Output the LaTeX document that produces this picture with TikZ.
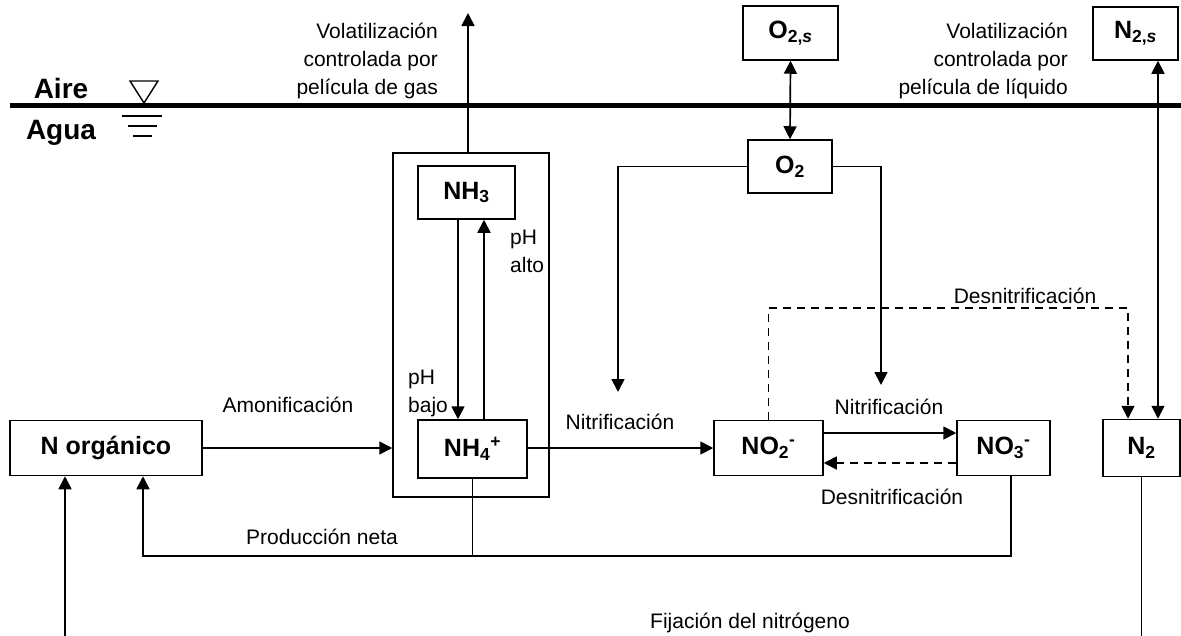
\documentclass[tikz,border=0pt]{standalone}
\usepackage{fontspec}
\setmainfont{Liberation Sans}
\usetikzlibrary{arrows.meta,calc}
\tikzset{
  box/.style={draw, line width=1.5pt, font=\fontsize{25}{30}\selectfont\bfseries, inner sep=0pt},
  lbl/.style={font=\fontsize{21}{28}\selectfont, inner sep=0pt},
  big/.style={font=\fontsize{28}{32}\selectfont\bfseries, inner sep=0pt},
  conn/.style={line width=1.7pt},
  arr/.style={conn, -{Triangle[length=13pt,width=13pt]}},
  darr/.style={conn, {Triangle[length=13pt,width=13pt]}-{Triangle[length=13pt,width=13pt]}},
  dsh/.style={dash pattern=on 8pt off 6pt},
}
\begin{document}
\begin{tikzpicture}[x=1pt,y=-1pt]
\useasboundingbox (0,0) rectangle (1181,635);
% water surface
\draw[line width=5pt] (10,105) -- (1181,105);
\node[big] (aire) at (61,88) {Aire};
\node[big] (agua) at (61,133) {Agua};
\draw[line width=1.4pt] (130,81) -- (158,81) -- (144,103) -- cycle;
\draw[line width=1.4pt] (122,116) -- (162,116);
\draw[line width=1.4pt] (128,126) -- (157,126);
\draw[line width=1.4pt] (133,136) -- (152,136);

% boxes
\node[box, minimum width=192pt, minimum height=55pt] (norg) at (106,448) {N orgánico};
\node[draw, line width=1.5pt, minimum width=156pt, minimum height=344pt, inner sep=0pt] (outer) at (471,325) {};
\node[box, minimum width=97pt, minimum height=53pt] (nh3) at (466.5,192.5) {NH\textsubscript{3}};
\node[box, minimum width=109pt, minimum height=58pt] (nh4) at (472.5,449) {NH\textsubscript{4}\textsuperscript{+}};
\node[box, minimum width=95pt, minimum height=54pt] (o2s) at (790.5,33) {O\textsubscript{2,\textit{s}}};
\node[box, minimum width=84pt, minimum height=53pt] (o2) at (790,166.5) {O\textsubscript{2}};
\node[box, minimum width=109pt, minimum height=55pt] (no2) at (768.5,448) {NO\textsubscript{2}\textsuperscript{-}};
\node[box, minimum width=93pt, minimum height=55pt] (no3) at (1003.5,448) {NO\textsubscript{3}\textsuperscript{-}};
\node[box, minimum width=77pt, minimum height=57pt] (n2) at (1141.5,448) {N\textsubscript{2}};
\node[box, minimum width=85pt, minimum height=53pt] (n2s) at (1135.5,33.5) {N\textsubscript{2,\textit{s}}};

% helper coordinates
\coordinate (volg) at (468,13);
\coordinate (a1) at (458,0);
\coordinate (a2) at (484,0);
\coordinate (o2l) at (618,392);
\coordinate (o2r) at (881,385);
\coordinate (dtop) at (0,308);
\coordinate (dx) at (1128,0);
\coordinate (nx) at (1158,0);
\coordinate (bot) at (0,642);
\coordinate (prody) at (0,556);
\coordinate (px) at (1011,0);
\coordinate (fx) at (65,0);
\coordinate (qx) at (143,0);

% connectors
\draw[arr] (norg.east) -- (norg.east -| outer.west);
\draw[arr] (outer.north -| volg) -- (volg);
\draw[arr] (nh3.south -| a1) -- (nh4.north -| a1);
\draw[arr] (nh4.north -| a2) -- (nh3.south -| a2);
\draw[arr] (nh4.east |- no2.west) -- (no2.west);
\draw[darr] (o2s.south) -- (o2.north);
\draw[arr] (o2.west) -| (o2l);
\draw[arr] (o2.east) -| (o2r);
\draw[arr] ([yshift=15pt]no2.east) -- ([yshift=15pt]no3.west);
\draw[arr,dsh] ([yshift=-15pt]no3.west) -- ([yshift=-15pt]no2.east);
\draw[arr,dsh] (no2.north) -- (no2.north |- dtop) -| (n2.north -| dx);
\draw[darr] (n2s.south -| nx) -- (n2.north -| nx);
\draw[arr] (n2.south) -- (n2.south |- bot) -- (fx |- bot) -- (norg.south -| fx);
\draw[arr] (no3.south -| px) -- (px |- prody) -- (qx |- prody) -- (norg.south -| qx);
\draw[conn] (nh4.south) -- (nh4.south |- prody);

% labels
\node[lbl] (l1) at (288,405) {Amonificación};
\node[lbl] (l2) at (620,422) {Nitrificación};
\node[lbl] (l3) at (889,407) {Nitrificación};
\node[lbl] (l4) at (892,497) {Desnitrificación};
\node[lbl] (l5) at (1025,296) {Desnitrificación};
\node[lbl] (l6) at (322,537) {Producción neta};
\node[lbl] (l7) at (750,623) {Fijación del nitrógeno};
\node[lbl, align=left, anchor=west] (l8) at (510,251.5) {pH\\alto};
\node[lbl, align=left, anchor=west] (l9) at (408,393.5) {pH\\bajo};
\node[lbl, align=right, anchor=east] (l10) at (438,61) {Volatilización\\controlada por\\película de gas};
\node[lbl, align=right, anchor=east] (l11) at (1068,61) {Volatilización\\controlada por\\película de líquido};
\end{tikzpicture}
\end{document}
